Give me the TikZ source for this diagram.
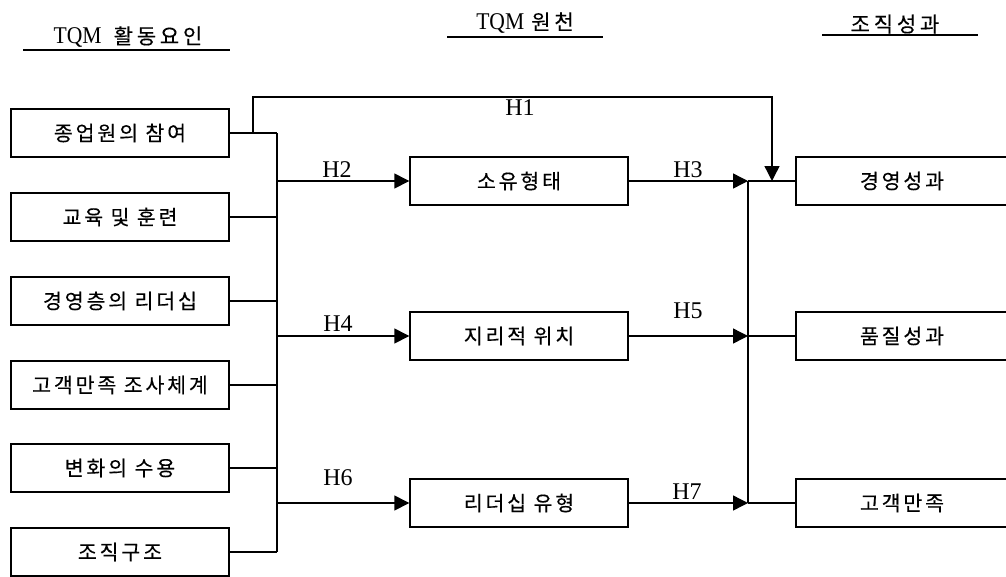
\documentclass[tikz,border=0pt]{standalone}
\usepackage{fontspec}
\setmainfont{Liberation Serif}
\newfontfamily\kr[LetterSpace=14,FakeBold=0.3]{Noto Sans CJK KR}
\newfontfamily\krh[LetterSpace=18,FakeBold=0.3]{Noto Sans CJK KR}
\newfontfamily\tm[FakeStretch=0.9]{Liberation Serif}
\usetikzlibrary{arrows.meta}
\begin{document}
\begin{tikzpicture}[x=1pt,y=-1pt,
  box/.style={draw,line width=1.4pt,minimum width=218pt,minimum height=48pt,inner sep=0pt,
    font=\kr\fontsize{20.5}{22}\selectfont},
  rbox/.style={box,minimum width=212pt},
  lbl/.style={font=\fontsize{24}{24}\selectfont,inner sep=0pt},
  head/.style={inner sep=0pt},
  ln/.style={line width=1.4pt},
  arr/.style={ln,-{Triangle[length=15pt,width=15pt]}}]
\useasboundingbox (0,0) rectangle (1006,576);
\clip (0,0) rectangle (1006,576);
% headings
\node[head] (h1) at (128,37) {\tm\fontsize{24}{24}\selectfont TQM\hspace{12pt}{\krh\fontsize{21}{22}\selectfont 활동요인}};
\node[head] (h2) at (525,23) {\tm\fontsize{24}{24}\selectfont TQM\hspace{7pt}{\krh\fontsize{21}{22}\selectfont 원천}};
\node[head] (h3) at (895,24) {\krh\fontsize{21}{22}\selectfont 조직성과};
\coordinate (u1a) at (23,50); \coordinate (u1b) at (230,50);
\coordinate (u2a) at (447,37); \coordinate (u2b) at (603,37);
\coordinate (u3a) at (822,35); \coordinate (u3b) at (978,35);
\draw[ln] (u1a) -- (u1b);
\draw[ln] (u2a) -- (u2b);
\draw[ln] (u3a) -- (u3b);
% left boxes
\node[box] (l1) at (120,133) {종업원의 참여};
\node[box] (l2) at (120,217) {교육 및 훈련};
\node[box] (l3) at (120,301) {경영층의 리더십};
\node[box] (l4) at (120,385) {고객만족 조사체계};
\node[box] (l5) at (120,468) {변화의 수용};
\node[box] (l6) at (120,552) {조직구조};
% middle boxes
\node[box] (m1) at (519,181) {소유형태};
\node[box] (m2) at (519,336) {지리적 위치};
\node[box] (m3) at (519,503) {리더십 유형};
% right boxes
\node[rbox] (r1) at (902,181) {경영성과};
\node[rbox] (r2) at (902,336) {품질성과};
\node[rbox] (r3) at (902,503) {고객만족};
% left bus
\coordinate (bt) at (277,133);
\coordinate (bb) at (277,552);
\draw[ln] (bt) -- (bb);
\foreach \i in {1,...,6} { \draw[ln] (l\i.east) -- (l\i.east -| bt); }
\draw[arr] (m1.west -| bt) -- (m1.west);
\draw[arr] (m2.west -| bt) -- (m2.west);
\draw[arr] (m3.west -| bt) -- (m3.west);
% right bus
\coordinate (rb) at (748,181);
\coordinate (rbb) at (748,503);
\draw[ln] (rb) -- (rbb);
\draw[arr] (m1.east) -- (m1.east -| rb);
\draw[arr] (m2.east) -- (m2.east -| rb);
\draw[arr] (m3.east) -- (m3.east -| rb);
\draw[ln] (r1.west -| rb) -- (r1.west);
\draw[ln] (r2.west -| rb) -- (r2.west);
\draw[ln] (r3.west -| rb) -- (r3.west);
% H1
\coordinate (p0) at (253,133);
\coordinate (p1) at (253,97);
\coordinate (p2) at (772,97);
\coordinate (p3) at (772,181);
\draw[arr] (p0) -- (p1) -- (p2) -- (p3);
% labels
\node[lbl] (H1) at (520,108) {H1};
\node[lbl] (H2) at (337,170) {H2};
\node[lbl] (H3) at (688,170) {H3};
\node[lbl] (H4) at (338,324) {H4};
\node[lbl] (H5) at (688,311) {H5};
\node[lbl] (H6) at (338,478) {H6};
\node[lbl] (H7) at (687,492) {H7};
\end{tikzpicture}
\end{document}
